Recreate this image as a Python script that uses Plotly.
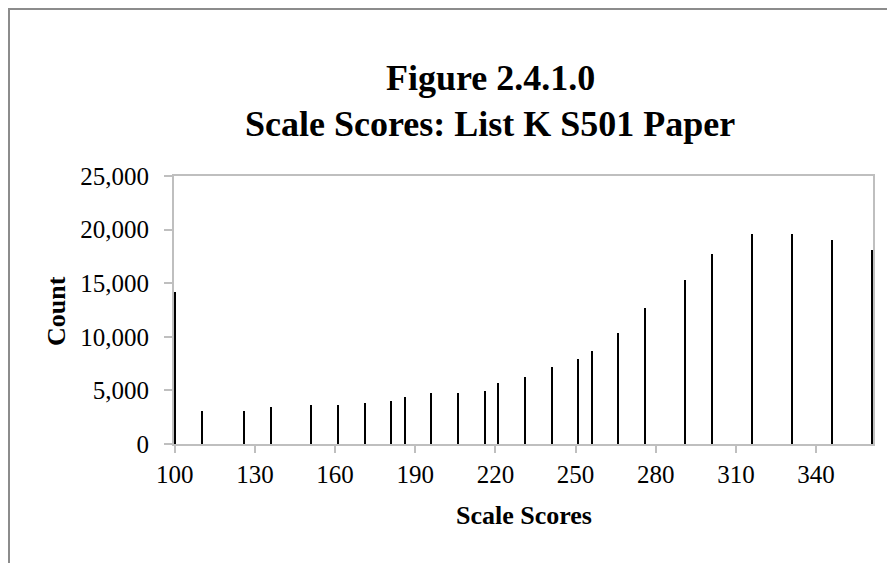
import plotly.graph_objects as go

# Data
scores = [100, 110, 126, 136, 151, 161, 171, 181, 186, 196, 206, 216, 221,
          231, 241, 251, 256, 266, 276, 291, 301, 316, 331, 346, 361]
counts = [14150, 3080, 3080, 3450, 3640, 3640, 3820, 4010, 4380, 4760, 4760, 4980, 5730,
          6250, 7220, 7970, 8710, 10390, 12660, 15270, 17700, 19590, 19590, 19030, 18100]
x_ticks = [100, 130, 160, 190, 220, 250, 280, 310, 340]
y_ticks = [0, 5000, 10000, 15000, 20000, 25000]

title_line1 = "Figure 2.4.1.0"
title_line2 = "Scale Scores: List K S501 Paper"
x_title = "Scale Scores"
y_title = "Count"

FONT = "Liberation Serif, Times New Roman, serif"
AXIS_GRAY = "#BFBFBF"

fig = go.Figure(
    go.Bar(
        x=scores,
        y=counts,
        width=0.75,
        marker=dict(color="black", line=dict(width=0)),
        showlegend=False,
    )
)

# The page body has an 8px margin; positions below are page pixels.
OFF = 8
W, H = 887, 555
# plot area in page pixels: x 174..873, y 176..444
L, R, T, B = 174 - OFF, 22, 176 - OFF, 119
PW, PH = W - L - R, H - T - B


def px_x(p):
    return (p - OFF - L) / PW


def px_y(p):
    return (H - B - (p - OFF)) / PH


fig.update_layout(
    width=W,
    height=H,
    margin=dict(l=L, r=R, t=T, b=B, pad=0),
    paper_bgcolor="white",
    plot_bgcolor="white",
    font=dict(family=FONT, color="black", size=25),
    bargap=0,
    xaxis=dict(
        range=[99.7, 361.3],
        tickmode="array",
        tickvals=x_ticks,
        ticktext=[str(v) for v in x_ticks],
        showline=True,
        linecolor=AXIS_GRAY,
        linewidth=2,
        mirror=True,
        ticks="outside",
        ticklen=7,
        tickwidth=2,
        tickcolor=AXIS_GRAY,
        tickfont=dict(family=FONT, size=25, color="black"),
        showgrid=False,
        zeroline=False,
    ),
    yaxis=dict(
        range=[0, 25000],
        tickmode="array",
        tickvals=y_ticks,
        tickformat=",",
        showline=True,
        linecolor=AXIS_GRAY,
        linewidth=2,
        mirror=True,
        ticks="outside",
        ticklen=8,
        tickwidth=2,
        tickcolor=AXIS_GRAY,
        ticklabelstandoff=10,
        tickfont=dict(family=FONT, size=25, color="black"),
        showgrid=False,
        zeroline=False,
    ),
    shapes=[
        dict(
            type="rect",
            xref="paper",
            yref="paper",
            x0=px_x(OFF + 1),
            x1=px_x(1200),
            y0=px_y(1000),
            y1=px_y(OFF + 1),
            line=dict(color="#8C8C8C", width=2),
            fillcolor="rgba(0,0,0,0)",
            layer="below",
        )
    ],
    annotations=[
        dict(
            text="<b>" + title_line1 + "</b>",
            xref="paper", yref="paper",
            x=px_x(490), y=px_y(78),
            xanchor="center", yanchor="middle",
            showarrow=False,
            font=dict(family=FONT, size=36, color="black"),
        ),
        dict(
            text="<b>" + title_line2 + "</b>",
            xref="paper", yref="paper",
            x=px_x(490), y=px_y(124),
            xanchor="center", yanchor="middle",
            showarrow=False,
            font=dict(family=FONT, size=36, color="black"),
        ),
        dict(
            text="<b>" + x_title + "</b>",
            xref="paper", yref="paper",
            x=px_x(524), y=px_y(515),
            xanchor="center", yanchor="middle",
            showarrow=False,
            font=dict(family=FONT, size=26, color="black"),
        ),
        dict(
            text="<b>" + y_title + "</b>",
            xref="paper", yref="paper",
            x=px_x(56), y=px_y(311),
            xanchor="center", yanchor="middle",
            textangle=-90,
            showarrow=False,
            font=dict(family=FONT, size=26, color="black"),
        ),
    ],
)

fig.write_html("out.html")
